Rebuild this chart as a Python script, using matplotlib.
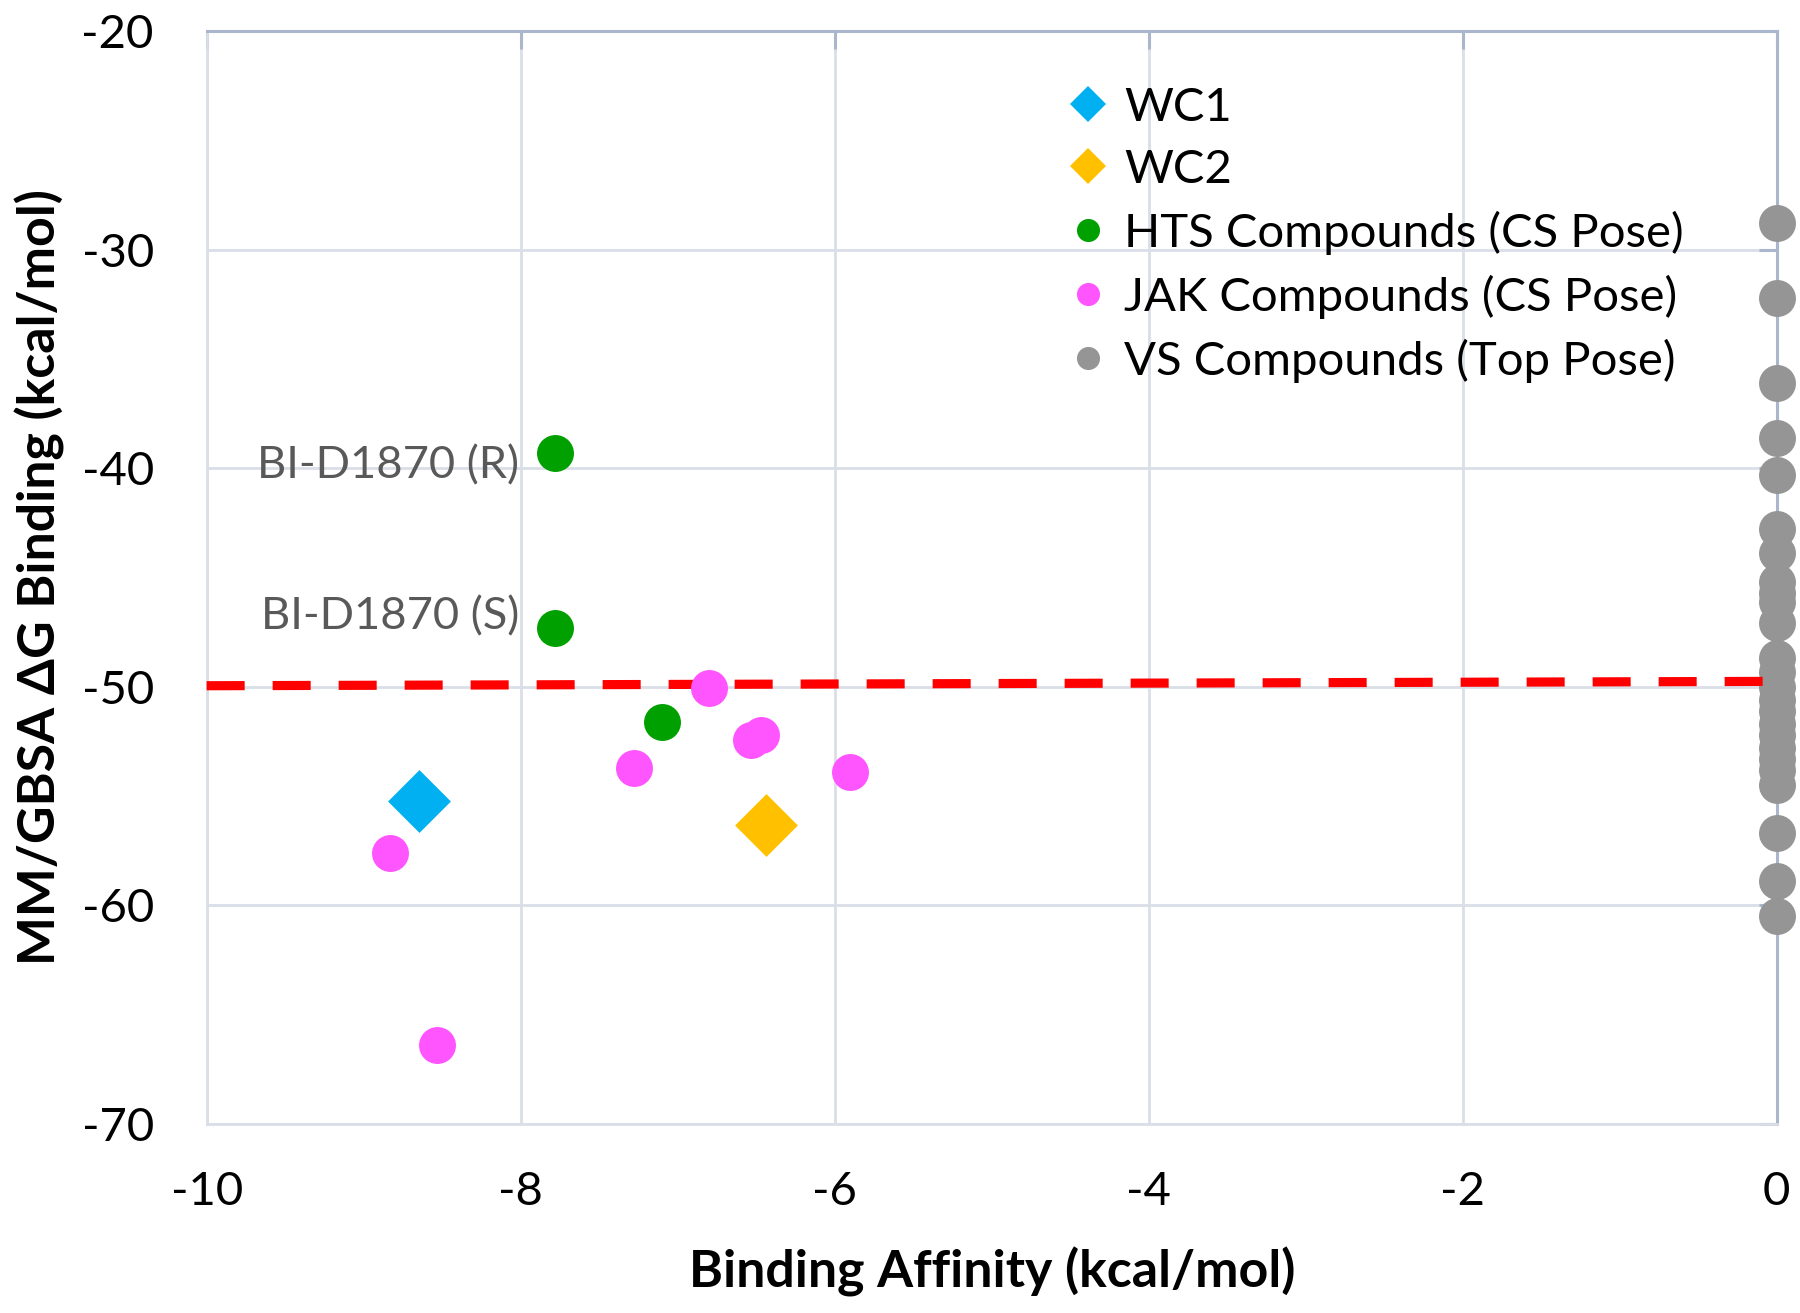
import matplotlib

matplotlib.use("Agg")
import matplotlib.pyplot as plt
from matplotlib.lines import Line2D

plt.rcParams["font.family"] = ["Lato", "DejaVu Sans"]
plt.rcParams["axes.unicode_minus"] = False

# data
wc1_x = [-8.65]
wc1_y = [-55.2]
wc2_x = [-6.44]
wc2_y = [-56.3]
hts_x = [-7.78, -7.78, -7.10]
hts_y = [-39.3, -47.3, -51.6]
hts_names = ["BI-D1870 (R)", "BI-D1870 (S)", None]
jak_x = [-6.80, -6.47, -6.53, -7.28, -5.90, -8.83, -8.53]
jak_y = [-50.05, -52.2, -52.45, -53.7, -53.9, -57.6, -66.4]
vs_y = [-28.8, -32.2, -36.1, -38.6, -40.3, -42.8, -43.9, -45.2, -45.7, -46.1,
        -47.1, -48.7, -49.3, -50.0, -50.6, -51.1, -51.7, -52.2, -52.8, -53.3,
        -53.8, -54.5, -56.7, -58.9, -60.5]
vs_x = [0.0] * len(vs_y)
cut_x = [-10, 0]
cut_y = [-49.95, -49.75]

C_WC1 = "#00B0F0"
C_WC2 = "#FFC000"
C_HTS = "#00A000"
C_JAK = "#FF55FF"
C_VS = "#959595"
GRID = "#D9DEE7"
DARK = "#A9B6CB"

fig = plt.figure(figsize=(9, 6.565), dpi=200)
ax = fig.add_axes([0.1148, 0.1439, 0.8723, 0.8325])

circ = 13.3 ** 2
diam = 16.0 ** 2
ax.scatter(vs_x, vs_y, s=circ, color=C_VS, lw=0, zorder=3, clip_on=False)
ax.plot(cut_x, cut_y, color="red", lw=3.3, dashes=(4.15, 3.05), zorder=4,
        clip_on=False, dash_capstyle="butt")
ax.scatter(hts_x, hts_y, s=circ, color=C_HTS, lw=0, zorder=5)
ax.scatter(jak_x, jak_y, s=circ, color=C_JAK, lw=0, zorder=5)
ax.scatter(wc1_x, wc1_y, s=diam, marker="D", color=C_WC1, lw=0, zorder=5)
ax.scatter(wc2_x, wc2_y, s=diam, marker="D", color=C_WC2, lw=0, zorder=5)

offsets = [(-13, -4.8), (-13, 4.0)]
for (x, y, name), off in zip(zip(hts_x, hts_y, hts_names), offsets):
    ax.annotate(name, (x, y), textcoords="offset points", xytext=off,
                ha="right", va="center", fontsize=16.3, color="#595959")

ax.set_xlim(-10, 0)
ax.set_ylim(-70, -20)
ax.set_xticks(range(-10, 1, 2))
ax.set_yticks(range(-70, -19, 10))
ax.grid(True, color=GRID, lw=1.0, zorder=0)
ax.set_axisbelow(True)

for side in ["left", "bottom"]:
    ax.spines[side].set_color(GRID)
    ax.spines[side].set_linewidth(1.0)
for side in ["top", "right"]:
    ax.spines[side].set_color(DARK)
    ax.spines[side].set_linewidth(1.1)

ax.tick_params(axis="x", bottom=False, top=True, labelbottom=True, labeltop=False,
               direction="in", length=6.5, width=1.1, color=DARK, pad=17, labelsize=17)
ax.tick_params(axis="y", left=False, right=True, labelleft=True, labelright=False,
               direction="in", length=6.5, width=1.1, color=DARK, pad=19, labelsize=17)

ax.set_xlabel("Binding Affinity (kcal/mol)", fontsize=18.7, fontweight="bold", labelpad=12)
ax.set_ylabel("MM/GBSA ΔG Binding (kcal/mol)", fontsize=18.7, fontweight="bold", labelpad=6)

handles = [
    Line2D([], [], marker="D", ms=9.2, ls="none", color=C_WC1, mew=0),
    Line2D([], [], marker="D", ms=9.2, ls="none", color=C_WC2, mew=0),
    Line2D([], [], marker="o", ms=8.3, ls="none", color=C_HTS, mew=0),
    Line2D([], [], marker="o", ms=8.3, ls="none", color=C_JAK, mew=0),
    Line2D([], [], marker="o", ms=8.3, ls="none", color=C_VS, mew=0),
]
labels = ["WC1", "WC2", "HTS Compounds (CS Pose)", "JAK Compounds (CS Pose)",
          "VS Compounds (Top Pose)"]
ax.legend(handles, labels, loc="upper left", bbox_to_anchor=(0.5465, 0.949),
          frameon=False, fontsize=17, handlelength=1.0, handletextpad=0.26,
          borderpad=0, borderaxespad=0, labelspacing=0.42)

fig.savefig("out.png", dpi=200)
